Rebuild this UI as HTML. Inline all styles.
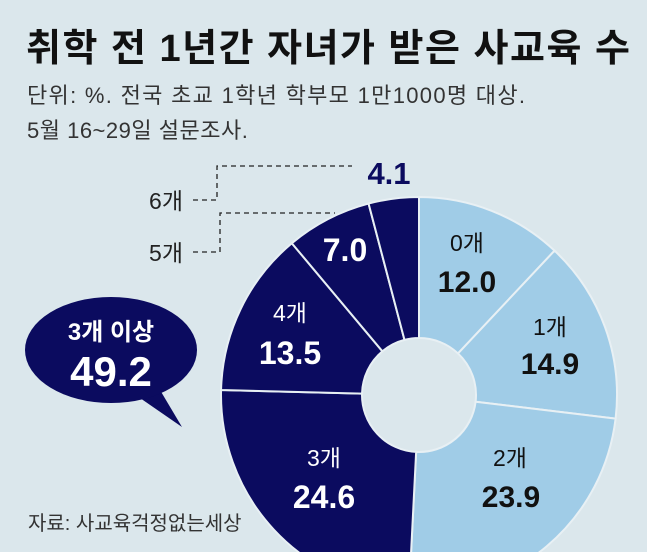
<!DOCTYPE html>
<html><head><meta charset="utf-8"><style>
html,body{margin:0;width:647px;height:552px;overflow:hidden;background:#dbe7ec;font-family:"Liberation Sans","Noto Sans CJK KR",sans-serif;}
#wrap{position:relative;width:647px;height:552px;overflow:hidden;}
.t{position:absolute;white-space:nowrap;}
</style></head><body>
<div id="wrap">
<div class="t" style="left:26px;top:17px;font-size:38px;font-weight:bold;color:#111;letter-spacing:1.5px">취학 전 1년간 자녀가 받은 사교육 수</div>
<div class="t" style="left:27px;top:78px;font-size:22px;color:#333;letter-spacing:1.3px">단위: %. 전국 초교 1학년 학부모 1만1000명 대상.</div>
<div class="t" style="left:27px;top:113px;font-size:22px;color:#333;letter-spacing:0.5px">5월 16~29일 설문조사.</div>
<div class="t" style="left:28px;top:507px;font-size:20px;color:#333">자료: 사교육걱정없는세상</div>
<svg id="svg" width="647" height="552" style="position:absolute;left:0;top:0"></svg>
</div>
<script>
const categories=["0개","1개","2개","3개","4개","5개","6개"];
const values=[12.0,14.9,23.9,24.6,13.5,7.0,4.1];
const summaryLabel="3개 이상";
const summaryValue="49.2";
const NS="http://www.w3.org/2000/svg";
const svg=document.getElementById('svg');
const cx=419,cy=395,R=198,r=57;
const light="#a0cce7",navy="#0b0b5f";
const total=values.reduce((a,b)=>a+b,0);
function ang(v){return v/total*2*Math.PI;}
function pt(a,rad){return [cx+rad*Math.sin(a),cy-rad*Math.cos(a)];}
function mk(tag,attrs){const e=document.createElementNS(NS,tag);for(const k in attrs)e.setAttribute(k,attrs[k]);svg.appendChild(e);return e;}
const bub=mk('path',{d:"M160,390 L182,427 L140,398 Z",fill:navy});


const ell=mk('ellipse',{cx:111,cy:350,rx:86,ry:53,fill:navy});


let acc=0;
const labelPos=[[467,243,467,281],[550,327,550,363],[510,458,511,496],[324,458,324,497],[290,313,290,353],[null,null,345,250],[null,null,null,null]];
values.forEach((v,i)=>{
  const a0=ang(acc),a1=ang(acc+v);acc+=v;
  const [x0,y0]=pt(a0,R),[x1,y1]=pt(a1,R),[x2,y2]=pt(a1,r),[x3,y3]=pt(a0,r);
  const lg=(a1-a0)>Math.PI?1:0;
  const col=i<3?light:navy;
  const p=mk('path',{d:`M${x0},${y0} A${R},${R} 0 ${lg} 1 ${x1},${y1} L${x2},${y2} A${r},${r} 0 ${lg} 0 ${x3},${y3} Z`,fill:col,stroke:"#e8f0f4","stroke-width":2});
  
  
  const lp=labelPos[i];const tc=i<3?"#111":"#fff";
  if(lp[0]!==null){
    const t=mk('text',{x:lp[0],y:lp[1]+8,'text-anchor':'middle','font-size':23,fill:tc});
    t.textContent=categories[i];
    
    
  }
  if(lp[2]!==null){
    const t=mk('text',{x:lp[2],y:lp[3]+11,'text-anchor':'middle','font-size':i<3?30:32,'font-weight':'bold',fill:tc});
    t.textContent=v.toFixed(1);
    
    
  }
});
const outs=[[5,252,213,335],[6,200,166,352]];
outs.forEach(o=>{
  const i=o[0];
  const t=mk('text',{x:183,y:o[1]+9,'text-anchor':'end','font-size':23,fill:'#222'});
  t.textContent=categories[i];
  
  
  const l=mk('path',{d:`M193,${o[1]} H${i==5?220:217} V${o[2]} H${o[3]}`,fill:'none',stroke:'#222','stroke-width':1.3,'stroke-dasharray':'5,4'});
  
  
});
const v6=mk('text',{x:389,y:184,'text-anchor':'middle','font-size':31,'font-weight':'bold',fill:navy});
v6.textContent=values[6].toFixed(1);


const s1=mk('text',{x:111,y:340,'text-anchor':'middle','font-size':24,'font-weight':'bold',fill:'#fff'});
s1.textContent=summaryLabel;


const s2=mk('text',{x:111,y:386,'text-anchor':'middle','font-size':42,'font-weight':'bold',fill:'#fff'});
s2.textContent=summaryValue;


</script>
</body></html>
